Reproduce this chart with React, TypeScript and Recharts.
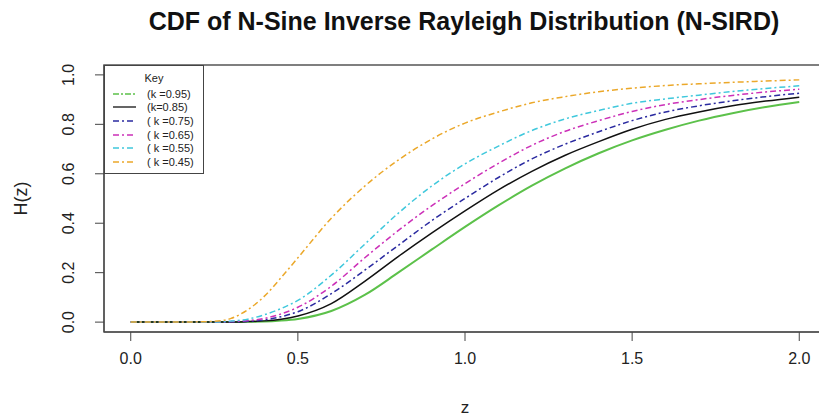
import { LineChart, Line, XAxis, YAxis, Legend, ReferenceArea, Label } from 'recharts';

// z grid (finer around the take-off region) and H(z)
const zValues = [0, 0.1, 0.2, 0.25, 0.3, 0.35, 0.4, 0.45, 0.5, 0.6, 0.7, 0.8, 0.9, 1.0, 1.1, 1.2, 1.3, 1.4, 1.5, 1.6, 1.7, 1.8, 1.9, 2.0];

const k095 = [0, 0, 0, 0, 0, 0.001, 0.002, 0.006, 0.013, 0.045, 0.11, 0.2, 0.293, 0.385, 0.472, 0.552, 0.622, 0.683, 0.735, 0.778, 0.815, 0.845, 0.87, 0.89];
const k085 = [0, 0, 0, 0, 0, 0.002, 0.005, 0.012, 0.025, 0.075, 0.165, 0.265, 0.36, 0.45, 0.535, 0.61, 0.675, 0.73, 0.78, 0.82, 0.85, 0.875, 0.894, 0.91];
const k075 = [0, 0, 0, 0, 0.001, 0.003, 0.009, 0.022, 0.042, 0.115, 0.21, 0.31, 0.41, 0.5, 0.585, 0.66, 0.72, 0.77, 0.815, 0.85, 0.875, 0.895, 0.912, 0.926];
const k065 = [0, 0, 0, 0, 0.002, 0.006, 0.015, 0.033, 0.06, 0.145, 0.26, 0.37, 0.47, 0.56, 0.642, 0.715, 0.772, 0.815, 0.852, 0.88, 0.9, 0.917, 0.931, 0.942];
const k055 = [0, 0, 0, 0, 0.004, 0.012, 0.03, 0.055, 0.088, 0.19, 0.315, 0.44, 0.55, 0.64, 0.712, 0.775, 0.822, 0.856, 0.885, 0.903, 0.918, 0.933, 0.945, 0.956];
const k045 = [0, 0, 0.001, 0.003, 0.015, 0.05, 0.105, 0.18, 0.26, 0.42, 0.55, 0.655, 0.74, 0.805, 0.85, 0.887, 0.912, 0.932, 0.946, 0.957, 0.964, 0.97, 0.975, 0.98];

const xTicks = [0, 0.5, 1, 1.5, 2];
const yTicks = [0, 0.2, 0.4, 0.6, 0.8, 1];

const series = [
  { key: 'k095', name: '(k =0.95)', values: k095, color: '#5cc14a', dash: undefined, legendDash: '6 2 2 2', width: 2 },
  { key: 'k085', name: '(k=0.85)', values: k085, color: '#111111', dash: undefined, legendDash: undefined, width: 1.5 },
  { key: 'k075', name: '( k =0.75)', values: k075, color: '#2a2aa0', dash: '6 3 2 3', legendDash: '6 3 2 3', width: 1.5 },
  { key: 'k065', name: '( k =0.65)', values: k065, color: '#cc30b8', dash: '6 3 2 3', legendDash: '6 3 2 3', width: 1.5 },
  { key: 'k055', name: '( k =0.55)', values: k055, color: '#3fc8dc', dash: '6 3 2 3', legendDash: '6 3 2 3', width: 1.5 },
  { key: 'k045', name: '( k =0.45)', values: k045, color: '#eba82a', dash: '6 3 2 3', legendDash: '6 3 2 3', width: 1.5 },
];

const data = zValues.map((z, i) => {
  const row: Record<string, number> = { z };
  series.forEach(s => { row[s.key] = s.values[i]; });
  return row;
});

const FONT = '"Liberation Sans", Arial, sans-serif';

const XTick = ({ x, y, payload }: any) => (
  <text x={x} y={y + 17} textAnchor="middle" dominantBaseline="central" fontSize={16} fill="#222" fontFamily={FONT}>
    {payload.value.toFixed(1)}
  </text>
);

const YTick = ({ x, y, payload }: any) => (
  <text x={x - 26} y={y} transform={`rotate(-90, ${x - 26}, ${y})`} textAnchor="middle" dominantBaseline="central" fontSize={16} fill="#222" fontFamily={FONT}>
    {payload.value.toFixed(1)}
  </text>
);

// legend keeps the plotting order of the series (R-style "Key" box)
const KeyLegend = ({ payload }: any) => {
  const items = [...(payload || [])].sort(
    (a: any, b: any) => series.findIndex(s => s.key === a.dataKey) - series.findIndex(s => s.key === b.dataKey)
  );
  return (
    <div style={{ border: '1px solid #444', background: '#fff', width: 100, height: 109, boxSizing: 'border-box', fontFamily: FONT, fontSize: 11, color: '#222' }}>
      <div style={{ textAlign: 'center', height: 14, lineHeight: '14px', marginTop: 5, marginBottom: 2 }}>Key</div>
      {items.map((entry: any) => {
        const s = series.find(d => d.key === entry.dataKey);
        return (
          <div key={entry.dataKey} style={{ display: 'flex', alignItems: 'center', height: 13.6 }}>
            <svg width={42} height={6}>
              <line x1={8} y1={3} x2={31} y2={3} stroke={entry.color} strokeWidth={1.3} strokeDasharray={s?.legendDash} />
            </svg>
            <span style={{ whiteSpace: 'pre' }}>{entry.value}</span>
          </div>
        );
      })}
    </div>
  );
};

export default function App() {
  return (
    <div style={{ position: 'fixed', left: 0, top: 0, width: 819, height: 419, overflow: 'hidden', background: '#fff', fontFamily: FONT }}>
      <div style={{ position: 'absolute', left: 0, width: 928, top: 6, textAlign: 'center', fontSize: 25, fontWeight: 'bold', color: '#111', lineHeight: '30px' }}>
        CDF of N-Sine Inverse Rayleigh Distribution (N-SIRD)
      </div>
      <LineChart width={840} height={419} data={data} margin={{ top: 65, right: 14, bottom: 0, left: 0 }}>
        <ReferenceArea x1={-0.08} x2={2.08} y1={-0.04} y2={1.04} fill="none" stroke="#555" strokeWidth={1.5} ifOverflow="visible" />
        <XAxis
          type="number"
          dataKey="z"
          domain={[-0.08, 2.08]}
          ticks={xTicks}
          allowDataOverflow
          height={87}
          tickSize={9}
          tickMargin={0}
          tick={<XTick />}
          stroke="#444"
          tickLine={{ stroke: '#444' }}
        >
          <Label
            content={({ viewBox }: any) => (
              <text x={viewBox.x + viewBox.width / 2} y={407} textAnchor="middle" dominantBaseline="central" fontSize={17} fill="#222" fontFamily={FONT}>
                z
              </text>
            )}
          />
        </XAxis>
        <YAxis
          type="number"
          domain={[-0.04, 1.04]}
          ticks={yTicks}
          allowDataOverflow
          width={104}
          tickSize={9}
          tickMargin={0}
          tick={<YTick />}
          stroke="#444"
          tickLine={{ stroke: '#444' }}
        >
          <Label
            content={({ viewBox }: any) => {
              const cy = viewBox.y + viewBox.height / 2;
              return (
                <text x={21} y={cy} transform={`rotate(-90, 21, ${cy})`} textAnchor="middle" dominantBaseline="central" fontSize={18} fill="#222" fontFamily={FONT}>
                  H(z)
                </text>
              );
            }}
          />
        </YAxis>
        {series.map(s => (
          <Line
            key={s.key}
            type="monotone"
            dataKey={s.key}
            name={s.name}
            stroke={s.color}
            strokeWidth={s.width}
            strokeDasharray={s.dash}
            dot={false}
            isAnimationActive={false}
          />
        ))}
        <Legend
          layout="vertical"
          align="center"
          verticalAlign="middle"
          content={<KeyLegend />}
          wrapperStyle={{ left: 104, top: 65, width: 100, height: 109 }}
        />
      </LineChart>
    </div>
  );
}
